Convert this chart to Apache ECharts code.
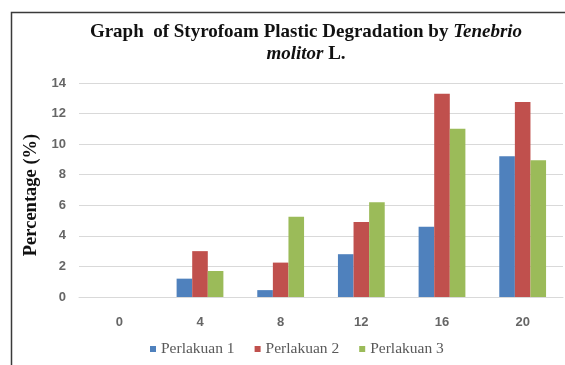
<!DOCTYPE html>
<html>
<head>
<meta charset="utf-8">
<script src="https://cdn.jsdelivr.net/npm/echarts@6/dist/echarts.min.js"></script>
<style>html,body{margin:0;padding:0;background:#fff}#c{width:565px;height:365px}</style>
</head>
<body>
<div id="c"></div>
<script>
var categories = ['0', '4', '8', '12', '16', '20'];
var seriesNames = ['Perlakuan 1', 'Perlakuan 2', 'Perlakuan 3'];
var perlakuan1 = [0, 1.2, 0.45, 2.8, 4.6, 9.2];
var perlakuan2 = [0, 3.0, 2.25, 4.9, 13.3, 12.75];
var perlakuan3 = [0, 1.7, 5.25, 6.2, 11.0, 8.95];
var yTicks = [0, 2, 4, 6, 8, 10, 12, 14];
var colors = ['#4F81BD', '#C0504D', '#9BBB59'];

var chart = echarts.init(document.getElementById('c'), null, {renderer: 'canvas'});
var serif = '"Liberation Serif", "Times New Roman", serif';
var allData = [perlakuan1, perlakuan2, perlakuan3];
chart.setOption({
  animation: false,
  color: colors,
  title: {
    left: 301, top: 16, textAlign: 'center',
    text: '{b|Graph  of Styrofoam Plastic Degradation by }{bi|Tenebrio}\n{bi|molitor}{b| L.}',
    textStyle: {
      rich: {
        b: {fontFamily: serif, fontWeight: 'bold', fontSize: 19, color: '#111', lineHeight: 22},
        bi: {fontFamily: serif, fontWeight: 'bold', fontStyle: 'italic', fontSize: 19, color: '#111', lineHeight: 22}
      }
    }
  },
  graphic: [{
    type: 'rect', shape: {x: 11.5, y: 12.5, width: 700, height: 500},
    style: {fill: 'none', stroke: '#3a3a3a', lineWidth: 1.5}, silent: true
  }],
  legend: {
    bottom: 3, left: 145, itemWidth: 6, itemHeight: 6, itemGap: 20,
    icon: 'rect',
    textStyle: {fontFamily: serif, fontSize: 15.5, color: '#595959'},
    data: seriesNames
  },
  grid: {left: 79, right: 2, top: 83, bottom: 68},
  xAxis: {
    type: 'category', data: categories,
    axisTick: {show: false},
    axisLine: {lineStyle: {color: '#d9d9d9', width: 1}},
    axisLabel: {fontFamily: '"Liberation Sans", Arial, sans-serif', fontWeight: 'bold', fontSize: 13, color: '#666', margin: 19}
  },
  yAxis: {
    type: 'value', min: yTicks[0], max: yTicks[yTicks.length - 1], interval: 2,
    name: 'Percentage (%)', nameLocation: 'middle', nameGap: 35,
    nameTextStyle: {fontFamily: serif, fontWeight: 'bold', fontSize: 18.5, color: '#111', padding: [0, 0, 0, -10]},
    axisLine: {show: false}, axisTick: {show: false},
    splitLine: {lineStyle: {color: '#d9d9d9', width: 1}},
    axisLabel: {fontFamily: '"Liberation Sans", Arial, sans-serif', fontWeight: 'bold', fontSize: 13, color: '#666', margin: 13}
  },
  series: seriesNames.map(function (n, i) {
    return {name: n, type: 'bar', data: allData[i], barGap: '0%', barCategoryGap: '42%'};
  })
});
</script>
</body>
</html>
